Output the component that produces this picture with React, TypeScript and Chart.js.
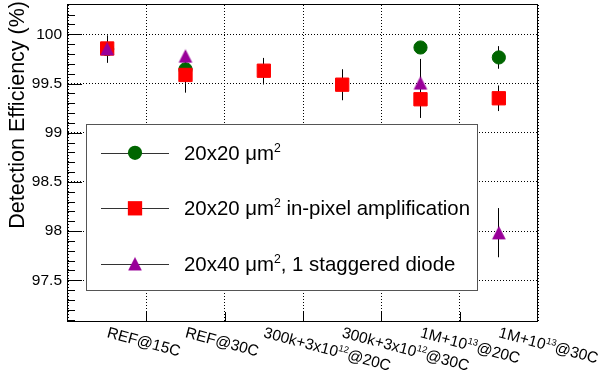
import React, { useEffect, useRef } from "react";
import { Chart, registerables } from "chart.js";

Chart.register(...registerables);

// ---------------- data ----------------
const categories = [
  "REF@15C",
  "REF@30C",
  "300k+3x10^{12}@20C",
  "300k+3x10^{12}@30C",
  "1M+10^{13}@20C",
  "1M+10^{13}@30C",
];

const seriesLabels = [
  "20x20 μm^{2}",
  "20x20 μm^{2} in-pixel amplification",
  "20x40 μm^{2}, 1 staggered diode",
];

const eff20x20 = [99.85, 99.645, null, null, 99.866, 99.765];
const err20x20Up = [0.14, 0.05, null, null, 0.04, 0.115];
const err20x20Down = [0.14, 0.05, null, null, 0.04, 0.115];

const effAmp = [99.856, 99.587, 99.63, 99.488, 99.34, 99.35];
const errAmpUp = [0.1, 0.2, 0.13, 0.157, 0.41, 0.13];
const errAmpDown = [0.1, 0.18, 0.14, 0.158, 0.19, 0.13];

const eff20x40 = [99.855, 99.78, null, null, 99.506, 97.984];
const err20x40Up = [0.05, 0.05, null, null, 0.05, 0.25];
const err20x40Down = [0.05, 0.05, null, null, 0.05, 0.25];

const yTickValues = [97.5, 98, 98.5, 99, 99.5, 100];
const yMin = 97.076;
const yMax = 100.298;
const yTitle = "Detection Efficiency (%)";

// ---------------- helpers ----------------
const FONT = "'Liberation Sans', Arial, Helvetica, sans-serif";

function parseRich(s: string) {
  const parts: { t: string; sup: boolean }[] = [];
  const re = /\^\{([^}]*)\}/g;
  let last = 0;
  let m: any;
  while ((m = re.exec(s))) {
    if (m.index > last) parts.push({ t: s.slice(last, m.index), sup: false });
    parts.push({ t: m[1], sup: true });
    last = re.lastIndex;
  }
  if (last < s.length) parts.push({ t: s.slice(last), sup: false });
  return parts;
}

function drawRich(ctx: any, s: string, x: number, y: number, size: number) {
  let cx = x;
  for (const p of parseRich(s)) {
    const fs = p.sup ? size * 0.6 : size;
    ctx.font = `${fs}px ${FONT}`;
    ctx.fillText(p.t, cx, p.sup ? y - size * 0.4 : y);
    cx += ctx.measureText(p.t).width;
  }
}

function makeTriangle(color: string) {
  const c = document.createElement("canvas");
  c.width = 16;
  c.height = 15;
  const g = c.getContext("2d")!;
  g.fillStyle = color;
  g.beginPath();
  g.moveTo(8, 0.8);
  g.lineTo(14.9, 14.2);
  g.lineTo(1.1, 14.2);
  g.closePath();
  g.fill();
  return c;
}

const GREEN = "#006600";
const RED = "#ff0000";
const PURPLE = "#990099";

export default function App() {
  const ref = useRef<HTMLCanvasElement>(null);

  useEffect(() => {
    const canvas = ref.current!;
    const tri = makeTriangle(PURPLE);

    const series = [
      { label: seriesLabels[0], values: eff20x20, up: err20x20Up, down: err20x20Down, color: GREEN, style: "circle", radius: 6.6, order: 3 },
      { label: seriesLabels[1], values: effAmp, up: errAmpUp, down: errAmpDown, color: RED, style: "rect", radius: 9.4, order: 2 },
      { label: seriesLabels[2], values: eff20x40, up: err20x40Up, down: err20x40Down, color: PURPLE, style: tri as any, radius: 7, order: 1 },
    ];

    const errorBars = {
      id: "errorBars",
      beforeDatasetsDraw(chart: any) {
        const { ctx } = chart;
        const xs = chart.scales.x;
        const ys = chart.scales.y;
        ctx.save();
        ctx.strokeStyle = "#000";
        ctx.lineWidth = 1;
        series.forEach((s) => {
          s.values.forEach((v: any, i: number) => {
            if (v == null) return;
            const x = Math.floor(xs.getPixelForValue(i + 0.5)) + 0.5;
            const y1 = ys.getPixelForValue(v + (s.up[i] as number));
            const y2 = ys.getPixelForValue(v - (s.down[i] as number));
            ctx.beginPath();
            ctx.moveTo(x, y1);
            ctx.lineTo(x, y2);
            ctx.stroke();
          });
        });
        ctx.restore();
      },
    };

    const decor = {
      id: "decor",
      afterDraw(chart: any) {
        const { ctx, chartArea } = chart;
        const { left, right, top, bottom } = chartArea;
        const xs = chart.scales.x;
        const ys = chart.scales.y;
        ctx.save();

        // frame
        ctx.strokeStyle = "#000";
        ctx.lineWidth = 1;
        ctx.strokeRect(left - 0.5, top - 0.5, right - left, bottom - top);

        // y ticks (inside)
        ctx.beginPath();
        for (let k = Math.ceil(yMin * 10); k <= Math.floor(yMax * 10); k++) {
          const v = k / 10;
          const len = k % 5 === 0 ? 14 : 7;
          const y = Math.round(ys.getPixelForValue(v)) + 0.5;
          ctx.moveTo(left, y);
          ctx.lineTo(left + len, y);
        }
        // x ticks (inside)
        for (let i = 1; i < categories.length; i++) {
          const x = Math.round(xs.getPixelForValue(i)) + 0.5;
          ctx.moveTo(x, bottom);
          ctx.lineTo(x, bottom - 10);
        }
        ctx.stroke();

        // legend
        const lx = 86.5, ly = 124.5, lw = 391, lh = 166;
        ctx.fillStyle = "#fff";
        ctx.fillRect(lx, ly, lw, lh);
        ctx.strokeStyle = "#555";
        ctx.strokeRect(lx, ly, lw, lh);
        const rows = [152.8, 208.3, 263.8];
        series.forEach((s, i) => {
          const ry = rows[i];
          ctx.strokeStyle = "#333";
          ctx.lineWidth = 1;
          ctx.beginPath();
          ctx.moveTo(101, Math.round(ry) + 0.5);
          ctx.lineTo(169, Math.round(ry) + 0.5);
          ctx.stroke();
          ctx.fillStyle = s.color;
          if (i === 0) {
            ctx.beginPath();
            ctx.arc(135, ry, 7.1, 0, Math.PI * 2);
            ctx.fill();
          } else if (i === 1) {
            ctx.fillRect(135 - 7.15, ry - 7.15, 14.3, 14.3);
          } else {
            ctx.drawImage(tri, 135 - 8, ry - 7.5);
          }
          ctx.fillStyle = "#000";
          ctx.textAlign = "left";
          ctx.textBaseline = "alphabetic";
          drawRich(ctx, s.label, 184, ry + 7, 20.4);
        });

        // x labels, rotated
        ctx.fillStyle = "#000";
        ctx.textAlign = "left";
        ctx.textBaseline = "alphabetic";
        categories.forEach((c, i) => {
          const cx = xs.getPixelForValue(i + 0.5);
          ctx.save();
          ctx.translate(cx - 1, 337);
          ctx.rotate((15 * Math.PI) / 180);
          drawRich(ctx, c, 0, 0, 15.5);
          ctx.restore();
        });

        // y title
        ctx.save();
        ctx.translate(23.5, 1);
        ctx.rotate(-Math.PI / 2);
        ctx.textAlign = "right";
        ctx.textBaseline = "alphabetic";
        ctx.font = `21.5px ${FONT}`;
        ctx.fillStyle = "#000";
        ctx.fillText(yTitle, 0, 0);
        ctx.restore();

        ctx.restore();
      },
    };

    const chart = new Chart(canvas, {
      type: "scatter",
      data: {
        datasets: series.map((s) => ({
          label: s.label,
          data: s.values
            .map((v: any, i: number) => (v == null ? null : { x: i + 0.5, y: v }))
            .filter((p: any) => p !== null) as any,
          pointStyle: s.style,
          pointRadius: s.radius,
          pointHoverRadius: s.radius,
          backgroundColor: s.color,
          borderColor: s.color,
          borderWidth: 1,
          showLine: false,
          order: s.order,
        })),
      },
      options: {
        responsive: false,
        animation: false,
        devicePixelRatio: 1,
        events: [],
        layout: { autoPadding: false, padding: { top: 5, right: 62, left: 0, bottom: 0 } },
        plugins: { legend: { display: false }, tooltip: { enabled: false } },
        scales: {
          x: {
            type: "linear",
            min: 0,
            max: categories.length,
            afterBuildTicks: (s: any) => {
              s.ticks = categories.map((_, i) => ({ value: i })).concat([{ value: categories.length }]);
            },
            afterFit: (s: any) => {
              s.height = 63;
              s.paddingLeft = 0;
              s.paddingRight = 0;
            },
            ticks: { display: false },
            grid: { color: "#000", lineWidth: 1, drawTicks: false },
            border: { display: false, dash: [1, 2] },
          },
          y: {
            type: "linear",
            min: yMin,
            max: yMax,
            afterBuildTicks: (s: any) => {
              s.ticks = yTickValues.map((v) => ({ value: v }));
            },
            afterFit: (s: any) => {
              s.width = 68;
              s.paddingTop = 0;
              s.paddingBottom = 0;
            },
            ticks: {
              callback: (v: any) => String(v),
              font: { family: FONT, size: 15.5 },
              color: "#000",
              padding: 6,
            },
            grid: { color: "#000", lineWidth: 1, drawTicks: false },
            border: { display: false, dash: [1, 2] },
          },
        },
      } as any,
      plugins: [errorBars, decor],
    });
    return () => chart.destroy();
  }, []);

  return (
    <div style={{ position: "fixed", left: 0, top: 0, width: 600, height: 385, background: "#fff" }}>
      <canvas ref={ref} width={600} height={385} style={{ display: "block", width: 600, height: 385 }} />
    </div>
  );
}
